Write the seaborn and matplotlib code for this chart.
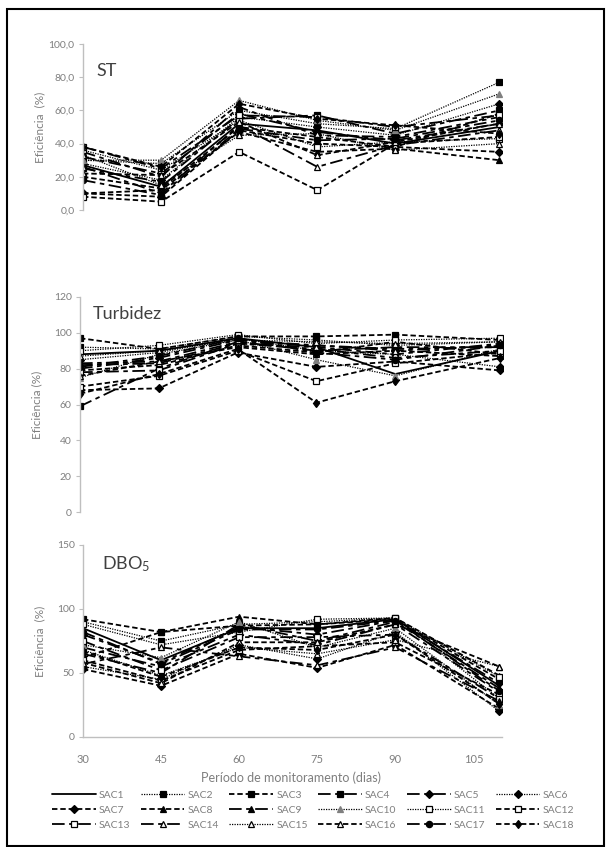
import matplotlib
matplotlib.use("Agg")
import matplotlib.pyplot as plt
import seaborn as sns
import pandas as pd
from matplotlib.patches import Rectangle

# monitoring days
days = [30, 45, 60, 75, 90, 110]
xticks = [30, 45, 60, 75, 90, 105]
series = [f"SAC{i}" for i in range(1, 19)]

# removal efficiency (%) per unit
st = {
    "SAC1": [27, 14, 52, 48, 40, 50],
    "SAC2": [30, 28, 60, 52, 49, 77],
    "SAC3": [20, 13, 50, 44, 38, 58],
    "SAC4": [25, 17, 55, 57, 46, 60],
    "SAC5": [32, 22, 58, 47, 42, 52],
    "SAC6": [28, 18, 56, 50, 45, 64],
    "SAC7": [10, 8, 48, 40, 38, 35],
    "SAC8": [10, 12, 47, 35, 37, 30],
    "SAC9": [35, 20, 62, 45, 44, 56],
    "SAC10": [30, 30, 66, 54, 48, 70],
    "SAC11": [36, 24, 54, 38, 41, 43],
    "SAC12": [8, 5, 35, 12, 40, 44],
    "SAC13": [38, 25, 57, 56, 50, 57],
    "SAC14": [26, 10, 51, 26, 39, 48],
    "SAC15": [33, 15, 45, 46, 36, 40],
    "SAC16": [22, 21, 53, 33, 41, 52],
    "SAC17": [18, 9, 49, 42, 43, 54],
    "SAC18": [38, 26, 64, 55, 51, 46],
}
turbidez = {
    "SAC1": [88, 90, 97, 92, 77, 90],
    "SAC2": [92, 91, 98, 96, 93, 95],
    "SAC3": [97, 91, 98, 98, 99, 96],
    "SAC4": [59, 80, 95, 90, 92, 92],
    "SAC5": [80, 86, 96, 93, 90, 93],
    "SAC6": [85, 89, 97, 90, 88, 81],
    "SAC7": [68, 69, 89, 81, 84, 79],
    "SAC8": [79, 82, 93, 89, 95, 88],
    "SAC9": [83, 84, 95, 93, 91, 92],
    "SAC10": [75, 88, 96, 85, 76, 91],
    "SAC11": [90, 93, 99, 94, 96, 97],
    "SAC12": [70, 76, 90, 73, 83, 89],
    "SAC13": [78, 79, 94, 91, 86, 90],
    "SAC14": [82, 83, 94, 92, 88, 94],
    "SAC15": [87, 90, 96, 95, 94, 95],
    "SAC16": [76, 84, 92, 88, 90, 87],
    "SAC17": [81, 87, 97, 89, 85, 93],
    "SAC18": [66, 77, 91, 61, 73, 86],
}
dbo5 = {
    "SAC1": [85, 60, 85, 85, 92, 40],
    "SAC2": [90, 75, 88, 90, 93, 30],
    "SAC3": [92, 82, 87, 88, 92, 45],
    "SAC4": [70, 55, 80, 72, 88, 35],
    "SAC5": [80, 58, 86, 80, 91, 42],
    "SAC6": [55, 45, 72, 61, 82, 20],
    "SAC7": [53, 40, 65, 54, 72, 22],
    "SAC8": [62, 82, 94, 88, 93, 48],
    "SAC9": [65, 50, 88, 75, 90, 38],
    "SAC10": [72, 62, 90, 70, 85, 25],
    "SAC11": [88, 72, 82, 92, 93, 47],
    "SAC12": [60, 44, 68, 71, 74, 33],
    "SAC13": [75, 52, 78, 78, 80, 30],
    "SAC14": [57, 70, 63, 56, 70, 28],
    "SAC15": [68, 48, 70, 65, 76, 55],
    "SAC16": [58, 42, 74, 74, 88, 55],
    "SAC17": [82, 57, 84, 84, 91, 36],
    "SAC18": [67, 47, 70, 68, 80, 26],
}

st_ticks = [0, 20, 40, 60, 80, 100]
st_ticklabels = ["0,0", "20,0", "40,0", "60,0", "80,0", "100,0"]
turb_ticks = [0, 20, 40, 60, 80, 100, 120]
dbo_ticks = [0, 50, 100, 150]

# line / marker style for each unit (Excel-like)
SOLID = "-"
DOT = (0, (1, 1))
DASH = (0, (3, 1.6))
LDASH = (0, (7, 2.5, 2.5, 2.5))
styles = {
    "SAC1": (SOLID, None, "black"),
    "SAC2": (DOT, "s", "black"),
    "SAC3": (DASH, "s", "black"),
    "SAC4": (LDASH, "s", "black"),
    "SAC5": (LDASH, "D", "black"),
    "SAC6": (DOT, "D", "black"),
    "SAC7": (DASH, "D", "black"),
    "SAC8": (DASH, "^", "black"),
    "SAC9": (LDASH, "^", "black"),
    "SAC10": (DOT, "^", "#7f7f7f"),
    "SAC11": (DOT, "s", "white"),
    "SAC12": (DASH, "s", "white"),
    "SAC13": (LDASH, "s", "white"),
    "SAC14": (LDASH, "^", "white"),
    "SAC15": (DOT, "^", "white"),
    "SAC16": (DASH, "^", "white"),
    "SAC17": (LDASH, "o", "black"),
    "SAC18": (DASH, "d", "black"),
}

GRAY = "#7f7f7f"
AXGRAY = "#bfbfbf"

sns.set_style("white")
plt.rcParams["font.family"] = ["Lato", "DejaVu Sans"]
plt.rcParams["mathtext.default"] = "regular"

W, H = 606, 847
fig = plt.figure(figsize=(W / 100, H / 100), dpi=100)


def px_axes(left, right, top, bottom):
    return fig.add_axes([left / W, 1 - bottom / H, (right - left) / W, (bottom - top) / H])


def draw_panel(ax, data, title, title_xy, ticks, ticklabels, ylabel, show_x):
    for name in series:
        ls, mk, fc = styles[name]
        lw = 0.9 if ls == DOT else 1.3
        sns.lineplot(
            x=days,
            y=data[name],
            ax=ax,
            color="black",
            linestyle=ls,
            linewidth=lw,
            marker=mk,
            markersize=4.5 if mk != "D" else 4,
            markerfacecolor=fc,
            markeredgecolor="black" if fc != "#7f7f7f" else "#7f7f7f",
            markeredgewidth=0.9,
            errorbar=None,
            legend=False,
            label=name,
        )
    ax.set_xlim(30, 110.5)
    ax.set_ylim(ticks[0], ticks[-1])
    ax.set_yticks(ticks)
    ax.set_yticklabels(ticklabels)
    ax.tick_params(axis="y", length=3, width=0.8, color=AXGRAY, labelsize=7.5, labelcolor=GRAY, pad=3, left=True)
    for s in ["top", "right"]:
        ax.spines[s].set_visible(False)
    ax.spines["left"].set_color(AXGRAY)
    ax.spines["left"].set_linewidth(1.0)
    if show_x:
        ax.spines["bottom"].set_color(AXGRAY)
        ax.spines["bottom"].set_linewidth(1.0)
        ax.set_xticks(xticks)
        ax.tick_params(axis="x", length=0, labelsize=8, labelcolor=GRAY, pad=12)
    else:
        ax.spines["bottom"].set_visible(False)
        ax.set_xticks([])
    ax.set_xlabel("")
    ax.set_ylabel(ylabel, color=GRAY, fontsize=8.5)
    ax.yaxis.set_label_coords(-0.09, 0.5)
    ax.text(title_xy[0], title_xy[1], title, transform=ax.transAxes, fontsize=13,
            color="#404040", ha="left", va="center")


ax1 = px_axes(83, 502, 44, 210)
draw_panel(ax1, st, "ST", (0.033, 0.84), st_ticks, st_ticklabels, "Eficiência  (%)", False)

ax2 = px_axes(80, 503, 297, 512)
draw_panel(ax2, turbidez, "Turbidez", (0.031, 0.92), turb_ticks, [str(t) for t in turb_ticks],
           "Eficiência (%)", False)

ax3 = px_axes(83, 502, 545, 737)
draw_panel(ax3, dbo5, "DBO$_5$", (0.045, 0.90), dbo_ticks, [str(t) for t in dbo_ticks],
           "Eficiência  (%)", True)

fig.text(291 / W, 1 - 778 / H, "Período de monitoramento (dias)", ha="center", va="center",
         fontsize=9, color=GRAY)

# legend row-wise, 6 columns
handles, labels = ax1.get_legend_handles_labels()
order = [r * 6 + c for c in range(6) for r in range(3)]
fig.legend(
    [handles[i] for i in order],
    [labels[i] for i in order],
    loc="center",
    bbox_to_anchor=(313 / W, 1 - 810 / H),
    ncol=6,
    frameon=False,
    fontsize=7.5,
    labelcolor=GRAY,
    handlelength=4.2,
    handletextpad=0.3,
    columnspacing=1.0,
    labelspacing=0.55,
)

# outer frame
fig.patches.append(Rectangle((7 / W, 1 / H), (W - 9) / W, (H - 10) / H, transform=fig.transFigure,
                             fill=False, edgecolor="black", linewidth=1.5))

fig.savefig("out.png", dpi=100)
